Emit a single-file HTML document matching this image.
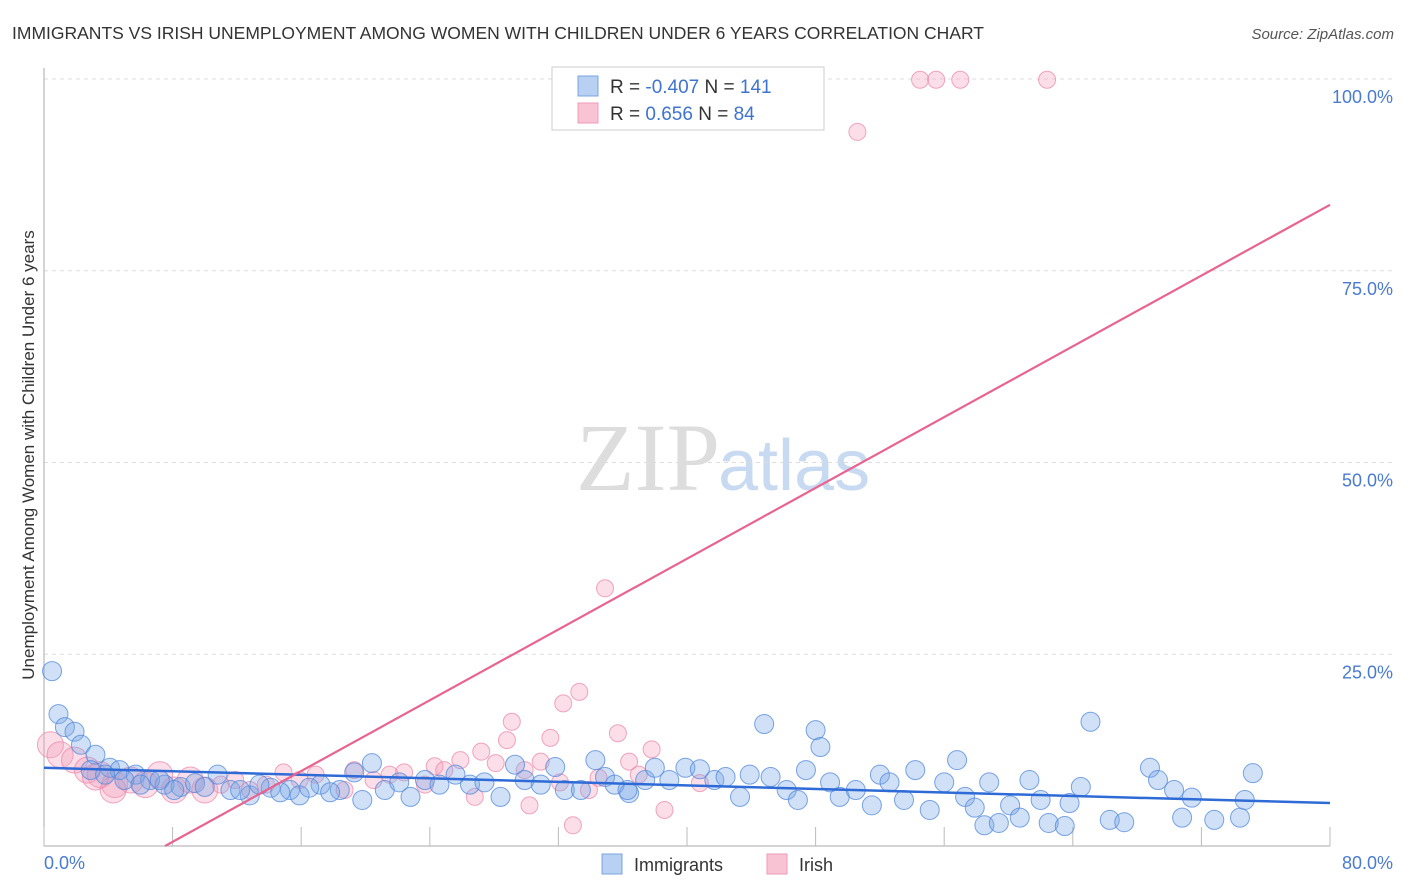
<!DOCTYPE html>
<html><head><meta charset="utf-8"><style>
body{margin:0;background:#fff;font-family:"Liberation Sans",sans-serif;}
svg{display:block}
</style></head><body>
<svg width="1406" height="892" id="chart">
<text x="12" y="39" font-size="17.5" fill="#333">IMMIGRANTS VS IRISH UNEMPLOYMENT AMONG WOMEN WITH CHILDREN UNDER 6 YEARS CORRELATION CHART</text>
<text x="1394" y="39" font-size="15" fill="#555" font-style="italic" text-anchor="end">Source: ZipAtlas.com</text>
<text x="720" y="490" font-size="96" fill="#ddd" text-anchor="end" font-family="Liberation Serif,serif">ZIP</text>
<text x="718" y="490" font-size="72" fill="#c8daf2">atlas</text>
<g id="grid"></g><g id="pts"></g><g id="lines"></g>
<text transform="translate(34,455) rotate(-90)" font-size="17" fill="#333" text-anchor="middle">Unemployment Among Women with Children Under 6 years</text>
<text x="44" y="869" font-size="18" fill="#4a7bd0">0.0%</text>
<text x="1393" y="869" font-size="18" fill="#4a7bd0" text-anchor="end">80.0%</text>
<g>
<rect x="552" y="67" width="272" height="63" fill="#fff" stroke="#ccc"/>
<rect x="578" y="76" width="20" height="20" fill="#b8d0f2" stroke="#7aa4e0"/>
<rect x="578" y="103" width="20" height="20" fill="#f8c4d4" stroke="#f09ab8"/>
<text x="610" y="93" font-size="19" fill="#333">R = <tspan fill="#3f73d0">-0.407</tspan>   N = <tspan fill="#3f73d0">141</tspan></text>
<text x="610" y="120" font-size="19" fill="#333">R =   <tspan fill="#3f73d0">0.656</tspan>   N =  <tspan fill="#3f73d0">84</tspan></text>
</g>
<g>
<rect x="602" y="854" width="20" height="20" fill="#b8d0f2" stroke="#7aa4e0"/>
<text x="634" y="871" font-size="18" fill="#333">Immigrants</text>
<rect x="767" y="854" width="20" height="20" fill="#f8c4d4" stroke="#f09ab8"/>
<text x="799" y="871" font-size="18" fill="#333">Irish</text>
</g>
</svg>
<script>
const yTicks=[25,50,75,100];
const yTickLabels=["25.0%","50.0%","75.0%","100.0%"];
const xTicks=[0,8,16,24,32,40,48,56,64,72,80];
const blueX=[0.5,0.9,1.3,1.9,2.3,3.2,4.1,4.7,5.7,6.6,7.5,8.5,9.4,10.8,11.6,12.8,14.1,15.3,15.9,17.2,18.4,19.3,19.8,20.4,21.2,22.1,22.8,23.7,24.6,25.6,26.5,27.4,28.4,29.3,29.9,30.9,31.8,32.4,33.4,34.3,34.9,35.5,36.4,37.4,38.0,38.9,39.9,40.8,41.7,42.4,43.3,43.9,44.8,45.2,46.2,46.9,47.4,48.0,48.3,48.9,49.5,50.5,51.5,52.0,52.6,53.5,54.2,55.1,56.0,56.8,57.3,57.9,58.5,58.8,59.4,60.1,60.7,61.3,62.0,62.5,63.5,63.8,64.5,65.1,66.3,67.2,68.8,69.3,70.3,70.8,71.4,72.8,74.4,74.7,75.2,2.9,3.8,5.0,6.0,7.2,8.1,10.0,12.2,13.4,14.7,16.5,17.8,36.3];
const blueY=[22.8,17.2,15.5,14.9,13.2,11.9,10.2,9.9,9.3,8.6,8.0,7.7,8.2,9.3,7.3,6.6,7.6,7.3,6.6,8.0,7.3,9.6,6.0,10.8,7.3,8.3,6.4,8.6,8.0,9.3,8.0,8.3,6.4,10.6,8.6,8.0,10.3,7.3,7.3,11.2,9.0,8.0,6.9,8.6,10.2,8.6,10.2,10.0,8.6,9.0,6.4,9.3,15.9,9.0,7.3,6.0,9.9,15.1,12.9,8.3,6.4,7.3,5.3,9.3,8.3,6.0,9.9,4.7,8.3,11.2,6.4,5.0,2.7,8.3,3.0,5.3,3.7,8.6,6.0,3.0,2.6,5.6,7.7,16.2,3.4,3.1,10.2,8.6,7.3,3.7,6.3,3.4,3.7,6.0,9.5,9.9,9.3,8.6,8.0,8.6,7.3,7.7,7.3,8.0,7.0,7.6,7.0,7.3];
const pinkX=[0.4,1.0,1.9,2.7,3.5,4.4,5.4,6.3,7.2,8.1,9.1,10.0,11.0,11.9,12.8,13.8,14.9,15.9,16.9,18.7,19.3,20.5,21.5,22.4,23.7,24.3,24.9,25.9,26.8,27.2,28.1,28.8,29.1,29.9,30.2,30.9,31.5,32.1,32.3,32.9,33.3,33.9,34.5,34.9,35.7,36.4,37.0,37.8,38.6,40.8,42.7,44.5,50.6,54.5,55.5,57.0,62.4,4.3,3.2];
const pinkY=[13.2,11.9,11.2,9.9,9.3,8.0,8.6,8.0,9.3,7.3,8.6,7.3,8.0,8.6,7.3,8.0,9.6,8.6,9.3,7.3,9.9,8.6,9.3,9.6,8.0,10.4,9.9,11.2,6.4,12.3,10.8,13.8,16.2,9.9,5.3,11.0,14.1,8.3,18.6,2.7,20.1,7.3,8.9,33.6,14.7,11.0,9.3,12.6,4.7,8.2,99.9,99.9,93.1,99.9,99.9,99.9,99.9,7.3,9.0];
const blueLine=[[0,10.2],[80,5.6]];
const pinkLine=[[7.53,0],[80,83.6]];
const X0=44,X1=1330,Y0=846,Y100=79;
const sx=v=>X0+(X1-X0)*v/80, sy=v=>Y0-(Y0-Y100)*v/100;
const NS="http://www.w3.org/2000/svg";
function mk(t,a,p){const e=document.createElementNS(NS,t);for(const k in a)e.setAttribute(k,a[k]);p.appendChild(e);return e;}
const grid=document.getElementById('grid');
yTicks.forEach((t,i)=>{
 const l=mk('line',{x1:X0,x2:1392,y1:sy(t),y2:sy(t),stroke:'#ddd','stroke-dasharray':'4,4'},grid);
 
 
 const tx=mk('text',{x:1393,y:sy(t)+24,'font-size':18,fill:'#4a7bd0','text-anchor':'end'},grid);
 tx.textContent=yTickLabels[i];
 
 
});
const ax=mk('path',{d:`M${X0} 68V${Y0}H${X1}`,stroke:'#aaa',fill:'none'},grid);


xTicks.forEach(t=>{
 const l=mk('line',{x1:sx(t),x2:sx(t),y1:Y0-19,y2:Y0,stroke:'#bbb'},grid);
 
 
});
const pts=document.getElementById('pts');
pinkX.forEach((x,i)=>{
 const big=i<12||i>=57;
 const c=mk('circle',{cx:sx(x),cy:sy(pinkY[i]),r:big?13:8.5,fill:'rgba(244,160,188,0.35)',stroke:'rgba(236,130,165,0.7)'},pts);
 
 
});
blueX.forEach((x,i)=>{
 const c=mk('circle',{cx:sx(x),cy:sy(blueY[i]),r:9.5,fill:'rgba(120,165,230,0.35)',stroke:'rgba(80,135,220,0.75)'},pts);
 
 
});
const lines=document.getElementById('lines');
const bl=mk('line',{x1:sx(blueLine[0][0]),y1:sy(blueLine[0][1]),x2:sx(blueLine[1][0]),y2:sy(blueLine[1][1]),stroke:'#2f6bd6','stroke-width':2.5},lines);


const pl=mk('line',{x1:sx(pinkLine[0][0]),y1:sy(pinkLine[0][1]),x2:sx(pinkLine[1][0]),y2:sy(pinkLine[1][1]),stroke:'#e8648f','stroke-width':2.2},lines);


</script>
</body></html>
